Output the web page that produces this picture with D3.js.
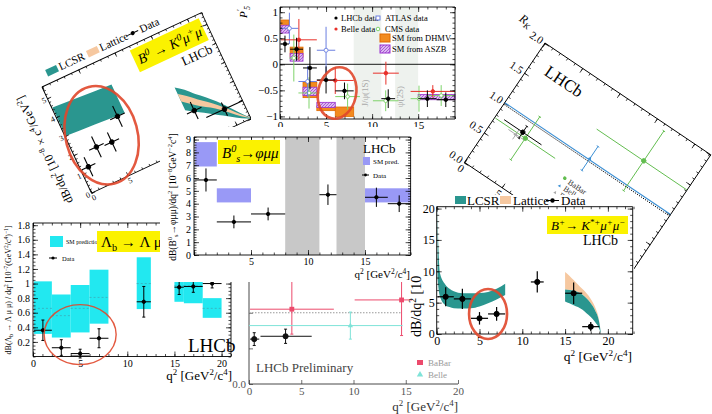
<!DOCTYPE html>
<html>
<head>
<meta charset="utf-8">
<script src="https://cdn.jsdelivr.net/npm/d3@7"></script>
<style>
  body { margin: 0; background: #fff; }
  svg { display: block; }
</style>
</head>
<body>
<svg id="chart" width="712" height="414"></svg>
<script>
// ---- B0 -> K0 mu mu (rotated, top left) ----
const k0Bins = [[0.1, 2], [2, 4], [4, 6], [6, 8], [15, 17], [17, 22]];
const k0Val = [1.2, 1.9, 1.8, 2.8, 1.5, 0.95];
const k0Err = [0.5, 0.55, 0.5, 0.55, 0.45, 0.35];
const k0LowQ = [0.1, 2, 4, 6, 8];
const k0LowUp = [4.5, 4.45, 4.4, 4.35, 4.3];
const k0LowLo = [3.0, 2.95, 2.9, 2.85, 2.8];
const k0HighQ = [15, 16, 17, 18, 19, 20, 21, 22];
const k0HighUp = [2.9, 2.6, 2.2, 1.85, 1.45, 1.0, 0.5, 0.05];
const k0HighLo = [1.7, 1.45, 1.2, 0.95, 0.7, 0.45, 0.2, 0.0];
const k0LatUp = [2.55, 2.25, 1.9, 1.6, 1.25, 0.85, 0.42, 0.04];
const k0LatLo = [2.15, 1.85, 1.55, 1.3, 1.0, 0.65, 0.3, 0.02];

// ---- P5' (top centre) ----
const p5Vetoes = [[8, 11], [12.5, 15]];
const p5LhcbBins = [[0.1, 0.98], [1.1, 2.5], [2.5, 4], [4, 6], [6, 8], [11, 12.5], [15, 17], [17, 19]];
const p5LhcbVal = [0.39, 0.29, -0.07, -0.30, -0.51, -0.66, -0.66, -0.68];
const p5LhcbErr = [0.16, 0.22, 0.4, 0.26, 0.16, 0.18, 0.16, 0.14];
const p5BelleBins = [[0.1, 4], [4, 8], [10.09, 12.9], [14.18, 19]];
const p5BelleVal = [0.47, -0.31, -0.17, -0.52];
const p5BelleErr = [0.4, 0.26, 0.22, 0.12];
const p5AtlasBins = [[0.04, 2], [2, 4], [4, 6]];
const p5AtlasVal = [0.69, -0.33, 0.27];
const p5AtlasErr = [0.3, 0.3, 0.45];
const p5CmsBins = [[1, 2], [2, 4.3], [6, 8.68], [10.09, 12.86], [14.18, 16], [16, 19]];
const p5CmsVal = [0.12, -0.55, -0.62, -0.7, -0.66, -0.6];
const p5CmsErr = [0.45, 0.3, 0.25, 0.2, 0.25, 0.2];
const p5DhmvBins = [[0.1, 0.98], [1.1, 2.5], [2.5, 4], [4, 6], [6, 8]];
const p5DhmvLo = [0.62, 0.14, -0.64, -0.89, -1.0];
const p5DhmvHi = [0.85, 0.33, -0.35, -0.8, -0.82];
const p5AszbBins = [[0.1, 0.98], [1.1, 2.5], [2.5, 4], [4, 6], [15, 19]];
const p5AszbLo = [0.6, 0.06, -0.6, -0.83, -0.68];
const p5AszbHi = [0.75, 0.21, -0.44, -0.73, -0.58];

// ---- R_K (rotated, top right) ----
const rkBabarQ = [4.1, 16.4];
const rkBabarBins = [[0.1, 8.1], [10.1, 22.8]];
const rkBabarVal = [0.75, 1.41];
const rkBabarErr = [0.36, 0.5];
const rkBelleQ = [11.3];
const rkBelleVal = [1.02];
const rkBelleErr = [0.2];
const rkLhcbBins = [[1, 6]];
const rkLhcbVal = [0.8];
const rkLhcbErr = [0.1];
const rkGreyQ = [3.0];
const rkGreyVal = [0.72];
const rkGreyErr = [0.08];

// ---- Bs -> phi mu mu (middle) ----
const bsVetoes = [[8, 11], [12.5, 15]];
const bsSmBins = [[0.1, 2], [2, 5], [15, 19]];
const bsSmLo = [6.9, 4.1, 4.1];
const bsSmHi = [8.8, 5.2, 5.2];
const bsBins = [[0.1, 2], [2, 5], [5, 8], [11, 12.5], [15, 17], [17, 19]];
const bsVal = [5.85, 2.58, 3.2, 4.7, 4.5, 4.0];
const bsErr = [0.9, 0.5, 0.5, 0.8, 0.75, 0.65];

// ---- Lambda_b -> Lambda mu mu (bottom left) ----
const lbBins = [[0.1, 2], [2, 4], [4, 6], [6, 8], [11, 12.5], [15, 16], [16, 18], [18, 20]];
const lbSmLo = [0.31, 0.26, 0.33, 0.45, 0.65, 0.75, 0.73, 0.53];
const lbSmHi = [1.03, 0.85, 0.98, 1.19, 1.36, 1.05, 1.05, 0.8];
const lbSmMid = [0.66, 0.56, 0.66, 0.81, 1.0, 0.97, 0.97, 0.66];
const lbVal = [0.36, 0.12, 0.04, 0.25, 0.75, 0.95, 0.96, 1.0];
const lbErr = [0.14, 0.11, 0.06, 0.13, 0.21, 0.1, 0.08, 0.06];

// ---- LHCb preliminary (bottom centre) ----
const prLhcbBins = [[0.1, 0.98], [1.1, 6]];
const prLhcbQ = [0.5, 3.5];
const prLhcbVal = [0.63, 0.67];
const prLhcbErr = [0.09, 0.1];
const prBabarBins = [[0.1, 8.12], [10.11, 16]];
const prBabarQ = [4.1, 14.6];
const prBabarVal = [1.05, 1.18];
const prBabarErr = [[0.35, 0.45], [0.5, 0.3]];
const prBelleBins = [[0, 14.7]];
const prBelleQ = [9.7];
const prBelleVal = [0.82];
const prBelleErr = [0.19];

// ---- B+ -> K*+ mu mu (bottom right) ----
const kpLowQ = [0.1, 0.2, 0.4, 1, 1.5, 2, 3, 4, 5, 6, 7, 8];
const kpLowUp = [20.3, 14, 9.6, 7.9, 7.2, 6.8, 6.5, 6.5, 6.55, 6.7, 7.2, 8.0];
const kpLowLo = [9, 7.4, 5.9, 4.6, 4.3, 4.1, 4.05, 4.1, 4.4, 4.9, 5.5, 6.2];
const kpHighQ = [15, 15.5, 16, 16.5, 17, 17.5, 18, 18.5, 19, 19.2];
const kpLatUp = [9.9, 9.3, 8.6, 7.9, 7.2, 6.5, 5.6, 4.3, 2.0, 0];
const kpLcsrUp = [7.1, 7.0, 6.9, 6.7, 6.3, 5.7, 4.9, 3.8, 1.8, 0];
const kpLcsrLo = [5.2, 4.9, 4.6, 4.3, 3.9, 3.3, 2.7, 1.9, 0.8, 0];
const kpBins = [[0.1, 2], [2, 4], [4, 6], [6, 8], [11, 12.5], [15, 17], [17, 19]];
const kpVal = [5.94, 5.6, 2.5, 3.2, 8.3, 6.5, 1.17];
const kpErr = [1.5, 1.6, 1.0, 1.1, 1.7, 1.7, 0.75];

const SERIF = "'Liberation Serif','DejaVu Serif',serif";
const TEAL = "#2a968f", TAN = "#f6c8a0", YELLOW = "#fbf200", RED = "#e0472b";
const svg = d3.select("#chart");

const defs = svg.append("defs");
const hatch = defs.append("pattern").attr("id", "hatch").attr("width", 3).attr("height", 3)
  .attr("patternUnits", "userSpaceOnUse");
hatch.append("rect").attr("width", 3).attr("height", 3).attr("fill", "#dcb8f2");
hatch.append("path").attr("d", "M0,3L3,0").attr("stroke", "#9a48c8").attr("stroke-width", 0.8);

// text with ^{sup} and _{sub}
function rich(sel, str, fs) {
  const parts = str.split(/(\^\{[^}]*\}|_\{[^}]*\})/g).filter(s => s !== "");
  let cur = 0;
  parts.forEach(p => {
    let off = 0, s = p;
    if (p.startsWith("^{")) { off = -0.38 * fs; s = p.slice(2, -1); }
    else if (p.startsWith("_{")) { off = 0.25 * fs; s = p.slice(2, -1); }
    sel.append("tspan").attr("dy", off - cur).attr("font-size", off ? fs * 0.68 : fs).text(s);
    cur = off;
  });
  return sel;
}

function label(g, x, y, str, fs, o = {}) {
  const t = g.append("text").attr("x", x).attr("y", y)
    .attr("font-family", SERIF).attr("font-size", fs)
    .attr("fill", o.fill || "#000")
    .attr("text-anchor", o.anchor || "start")
    .attr("font-style", o.italic ? "italic" : null);
  if (o.rot) t.attr("transform", `rotate(${o.rot},${x},${y})`);
  return rich(t, str, fs);
}

function panel(tx, ty, rot) {
  return svg.append("g").attr("transform", `translate(${tx},${ty}) rotate(${rot})`);
}

// axes with inward ticks on the requested sides
function frame(g, x, y, o) {
  const [xa, xb] = x.range(), [ya, yb] = y.range();
  const sides = o.sides || "lrbt", tl = o.tl || 5, col = o.col || "#000", pad = o.pad || 3;
  const put = (axis, tf) => {
    const a = g.append("g").attr("transform", tf).call(axis);
    a.select(".domain").remove();
    a.selectAll("line").attr("stroke", col).attr("stroke-width", 0.7);
    a.selectAll("text").attr("font-family", SERIF).attr("font-size", o.fs).attr("fill", o.tcol || col);
  };
  const xf = o.xFmt || (d => d), yf = o.yFmt || (d => d);
  if (sides.includes("b")) {
    put(d3.axisBottom(x).tickValues(o.xMaj).tickSize(-tl).tickPadding(pad).tickFormat(xf), `translate(0,${ya})`);
    if (o.xMin) put(d3.axisBottom(x).tickValues(o.xMin).tickSize(-tl / 2).tickFormat(""), `translate(0,${ya})`);
  }
  if (sides.includes("t")) {
    put(d3.axisTop(x).tickValues(o.xMaj).tickSize(-tl).tickFormat(""), `translate(0,${yb})`);
    if (o.xMin) put(d3.axisTop(x).tickValues(o.xMin).tickSize(-tl / 2).tickFormat(""), `translate(0,${yb})`);
  }
  if (sides.includes("l")) {
    put(d3.axisLeft(y).tickValues(o.yMaj).tickSize(-tl).tickPadding(pad).tickFormat(yf), `translate(${xa},0)`);
    if (o.yMin) put(d3.axisLeft(y).tickValues(o.yMin).tickSize(-tl / 2).tickFormat(""), `translate(${xa},0)`);
  }
  if (sides.includes("r")) {
    put(d3.axisRight(y).tickValues(o.yMaj).tickSize(-tl).tickFormat(""), `translate(${xb},0)`);
    if (o.yMin) put(d3.axisRight(y).tickValues(o.yMin).tickSize(-tl / 2).tickFormat(""), `translate(${xb},0)`);
  }
  const seg = { l: [xa, ya, xa, yb], r: [xb, ya, xb, yb], b: [xa, ya, xb, ya], t: [xa, yb, xb, yb] };
  sides.split("").forEach(s => g.append("line")
    .attr("x1", seg[s][0]).attr("y1", seg[s][1]).attr("x2", seg[s][2]).attr("y2", seg[s][3])
    .attr("stroke", col).attr("stroke-width", o.bw || 0.9));
}

function step(a, b, s) { return d3.range(Math.round(a / s), Math.round(b / s) + 1).map(i => +(i * s).toFixed(3)); }

// data points with x-bin and y-error bars
function crosses(g, x, y, bins, vals, errs, o = {}) {
  const col = o.col || "#000";
  const rows = bins.map((b, i) => {
    const e = Array.isArray(errs[i]) ? errs[i] : [errs[i], errs[i]];
    return { lo: b[0], hi: b[1], c: o.q ? o.q[i] : (b[0] + b[1]) / 2, v: vals[i], el: e[0], eh: e[1] };
  });
  const s = g.append("g").attr("stroke", col).attr("stroke-width", o.sw || 1.1);
  if (!o.noH) s.selectAll("line.h").data(rows).join("line").attr("class", "h")
    .attr("x1", d => x(d.lo)).attr("x2", d => x(d.hi)).attr("y1", d => y(d.v)).attr("y2", d => y(d.v));
  s.selectAll("line.v").data(rows).join("line").attr("class", "v")
    .attr("x1", d => x(d.c)).attr("x2", d => x(d.c)).attr("y1", d => y(d.v - d.el)).attr("y2", d => y(d.v + d.eh));
  if (o.caps) {
    s.selectAll("line.c1").data(rows).join("line").attr("class", "c1")
      .attr("x1", d => x(d.c) - 1.5).attr("x2", d => x(d.c) + 1.5).attr("y1", d => y(d.v - d.el)).attr("y2", d => y(d.v - d.el));
    s.selectAll("line.c2").data(rows).join("line").attr("class", "c2")
      .attr("x1", d => x(d.c) - 1.5).attr("x2", d => x(d.c) + 1.5).attr("y1", d => y(d.v + d.eh)).attr("y2", d => y(d.v + d.eh));
  }
  const r = o.r || 2.2, mk = o.mk || "dot";
  const m = g.selectAll(null).data(rows).join(mk === "sq" ? "rect" : mk === "tri" ? "path" : "circle");
  if (mk === "sq") m.attr("x", d => x(d.c) - r).attr("y", d => y(d.v) - r).attr("width", 2 * r).attr("height", 2 * r).attr("fill", col);
  else if (mk === "tri") m.attr("d", d => `M${x(d.c)},${y(d.v) - r * 1.2}l${r * 1.1},${r * 1.9}h${-r * 2.2}z`).attr("fill", col);
  else m.attr("cx", d => x(d.c)).attr("cy", d => y(d.v)).attr("r", r)
    .attr("fill", mk === "open" ? "#fff" : col).attr("stroke", col).attr("stroke-width", 0.9);
}

function boxes(g, x, y, bins, lo, hi, fill, stroke) {
  g.selectAll(null).data(bins).join("rect")
    .attr("x", d => x(d[0])).attr("width", d => x(d[1]) - x(d[0]))
    .attr("y", (d, i) => y(hi[i])).attr("height", (d, i) => y(lo[i]) - y(hi[i]))
    .attr("fill", fill).attr("stroke", stroke || "none").attr("stroke-width", 0.8);
}

function band(g, x, y, qs, lo, hi, fill, curve) {
  g.append("path").datum(qs.map((q, i) => [q, lo[i], hi[i]]))
    .attr("fill", fill)
    .attr("d", d3.area().x(d => x(d[0])).y0(d => y(d[1])).y1(d => y(d[2])).curve(curve || d3.curveMonotoneX));
}

function ring(g, cx, cy, rx, ry, rot, sw) {
  g.append("ellipse").attr("cx", cx).attr("cy", cy).attr("rx", rx).attr("ry", ry)
    .attr("transform", `rotate(${rot},${cx},${cy})`)
    .attr("fill", "none").attr("stroke", RED).attr("stroke-width", sw).attr("opacity", 0.9);
}

function clipTo(g, id, x, y) {
  const [xa, xb] = x.range(), [ya, yb] = y.range();
  defs.append("clipPath").attr("id", id).append("rect")
    .attr("x", xa).attr("y", yb).attr("width", xb - xa).attr("height", ya - yb);
  return g.append("g").attr("clip-path", `url(#${id})`);
}

// ================= Panel A : B0 -> K0 mu mu =================
{
  const g = panel(42, 87, -25);
  const x = d3.scaleLinear().domain([0, 22]).range([0, 176]);
  const y = d3.scaleLinear().domain([0, 5.6]).range([117, 0]);
  g.append("rect").attr("x", -45).attr("y", -28).attr("width", 228).attr("height", 172).attr("fill", "#fff");
  const c = clipTo(g, "clipA", x, y);
  band(c, x, y, k0LowQ, k0LowLo, k0LowUp, TEAL, d3.curveLinear);
  band(c, x, y, k0HighQ, k0HighLo, k0HighUp, TEAL);
  band(c, x, y, k0HighQ, k0LatLo, k0LatUp, TAN);
  crosses(g, x, y, k0Bins, k0Val, k0Err, { r: 2.2 });
  frame(g, x, y, { xMaj: [0, 5, 10, 15, 20], xMin: step(0, 22, 1), yMaj: [0, 1, 2, 3, 4, 5], yMin: step(0, 5.6, 0.2),
    fs: 8, tl: 4, pad: 2, xFmt: d => (d <= 5 ? d : "") });
  label(g, -20, 58, "dB/dq^{2} [10^{−8} × c^{4}/GeV^{2}]", 12, { rot: -90, anchor: "middle" });
  g.append("rect").attr("x", 95).attr("y", 4).attr("width", 76).attr("height", 24).attr("fill", YELLOW);
  label(g, 99, 21, "B^{0} → K^{0}μ^{+}μ^{−}", 14, { italic: true });
  label(g, 170, 41, "LHCb", 13, { anchor: "end" });
  g.append("rect").attr("x", 10).attr("y", -14).attr("width", 12).attr("height", 7).attr("fill", TEAL);
  label(g, 24, -7, "LCSR", 11);
  g.append("rect").attr("x", 55).attr("y", -14).attr("width", 12).attr("height", 7).attr("fill", TAN);
  label(g, 69, -7, "Lattice", 11);
  g.append("line").attr("x1", 99).attr("x2", 111).attr("y1", -10.5).attr("y2", -10.5).attr("stroke", "#000");
  g.append("circle").attr("cx", 105).attr("cy", -10.5).attr("r", 2).attr("fill", "#000");
  label(g, 113, -7, "Data", 11);
  ring(g, x(4.2), y(2.3), 36, 50, 10, 2.6);
}

// ================= Panel C : R_K =================
{
  const g = panel(545, 43, 34);
  const x = d3.scaleLinear().domain([0, 22.2]).range([0, 200]);
  const y = d3.scaleLinear().domain([0, 2]).range([144, 0]);
  g.append("rect").attr("x", -38).attr("y", -22).attr("width", 250).attr("height", 200).attr("fill", "#fff");
  frame(g, x, y, { xMaj: [0, 5, 10, 15, 20], xMin: step(0, 22, 1), yMaj: [0, 0.5, 1, 1.5, 2], yMin: step(0, 2, 0.1),
    fs: 11, tl: 5, yFmt: d3.format(".1f") });
  const c = clipTo(g, "clipC", x, y);
  c.append("line").attr("x1", x(0)).attr("x2", x(22.2)).attr("y1", y(1)).attr("y2", y(1)).attr("stroke", "#3b8fd4").attr("stroke-width", 1.2);
  c.append("line").attr("x1", x(0)).attr("x2", x(22.2)).attr("y1", y(0.975)).attr("y2", y(0.975))
    .attr("stroke", "#000").attr("stroke-width", 0.9).attr("stroke-dasharray", "1.2,1.2");
  crosses(c, x, y, rkBabarBins, rkBabarVal, rkBabarErr, { col: "#62bd4f", q: rkBabarQ, caps: true, r: 2.2, sw: 0.9 });
  crosses(c, x, y, [[11.3, 11.3]], rkBelleVal, rkBelleErr, { col: "#3b8fd4", q: rkBelleQ, caps: true, r: 1.8, noH: true, mk: "tri", sw: 0.9 });
  crosses(c, x, y, [[2, 4]], rkGreyVal, rkGreyErr, { col: "#aaa", q: rkGreyQ, r: 2, mk: "tri", sw: 0.9 });
  crosses(c, x, y, rkLhcbBins, rkLhcbVal, rkLhcbErr, { col: "#000", caps: true, r: 2.2, sw: 0.9 });
  label(g, 16, 27, "LHCb", 17);
  label(g, -22, -4, "R_{K}", 12, { italic: true, anchor: "end" });
  g.append("circle").attr("cx", 92).attr("cy", 101).attr("r", 1.8).attr("fill", "#62bd4f");
  label(g, 97, 104, "BaBar", 8, { fill: "#333" });
  g.append("path").attr("d", "M92,108.5l1.6,2.8h-3.2z").attr("fill", "#3b8fd4");
  label(g, 97, 112, "Belle", 8, { fill: "#333" });
  g.append("path").attr("d", "M92,116.5l1.6,2.8h-3.2z").attr("fill", "#aaa");
  label(g, 97, 120, "Data", 8, { fill: "#333" });
}

// ================= Panel B : P5' =================
{
  const g = svg.append("g");
  const x = d3.scaleLinear().domain([0, 19]).range([280, 455]);
  const y = d3.scaleLinear().domain([-1.05, 1.1]).range([119, 7]);
  g.append("rect").attr("x", 251).attr("y", 0).attr("width", 209).attr("height", 128).attr("fill", "#fff");
  g.selectAll(null).data(p5Vetoes).join("rect")
    .attr("x", d => x(d[0])).attr("width", d => x(d[1]) - x(d[0])).attr("y", y(1.1)).attr("height", y(-1.05) - y(1.1))
    .attr("fill", "#eef2ee");
  label(g, x(9.6), y(-0.55), "J/ψ(1S)", 9, { rot: -90, anchor: "middle", fill: "#aaa" });
  label(g, x(13.4), y(-0.62), "ψ(2S)", 9, { rot: -90, anchor: "middle", fill: "#aaa" });
  g.append("line").attr("x1", x(0)).attr("x2", x(19)).attr("y1", y(0)).attr("y2", y(0)).attr("stroke", "#000").attr("stroke-width", 0.9);
  boxes(g, x, y, p5DhmvBins, p5DhmvLo, p5DhmvHi, "#f28a1e", "#e06b00");
  boxes(g, x, y, p5AszbBins, p5AszbLo, p5AszbHi, "url(#hatch)", "#9a30d0");
  crosses(g, x, y, p5CmsBins, p5CmsVal, p5CmsErr, { col: "#7fd36b", mk: "open", r: 1.8, sw: 1 });
  crosses(g, x, y, p5AtlasBins, p5AtlasVal, p5AtlasErr, { col: "#6b7fe0", mk: "open", r: 2, sw: 1 });
  crosses(g, x, y, p5BelleBins, p5BelleVal, p5BelleErr, { col: "#e8302a", r: 1.8, sw: 1 });
  crosses(g, x, y, p5LhcbBins, p5LhcbVal, p5LhcbErr, { col: "#000", r: 1.8, sw: 1 });
  frame(g, x, y, { xMaj: [0, 5, 10, 15], xMin: step(0, 19, 1), yMaj: [-1, -0.5, 0, 0.5, 1], yMin: step(-1, 1.1, 0.1),
    fs: 11, tl: 5, pad: 2, yFmt: d3.format("") });
  label(g, 247, 18, "P^{′}_{5}", 11, { rot: -90, italic: true });
  // legend
  g.append("circle").attr("cx", 336).attr("cy", 18).attr("r", 1.6).attr("fill", "#000");
  label(g, 341, 21, "LHCb data", 8.5);
  g.append("circle").attr("cx", 336).attr("cy", 29).attr("r", 1.6).attr("fill", "#e8302a");
  label(g, 341, 32, "Belle data", 8.5);
  g.append("rect").attr("x", 376).attr("y", 16).attr("width", 4).attr("height", 4).attr("fill", "#fff").attr("stroke", "#6b7fe0");
  label(g, 385, 21, "ATLAS data", 8.5);
  g.append("circle").attr("cx", 378).attr("cy", 29).attr("r", 1.8).attr("fill", "#fff").attr("stroke", "#7fd36b");
  label(g, 385, 32, "CMS data", 8.5);
  g.append("rect").attr("x", 380).attr("y", 34).attr("width", 10).attr("height", 8).attr("fill", "#f28a1e").attr("stroke", "#e06b00");
  label(g, 392, 41, "SM from DHMV", 8.5);
  g.append("rect").attr("x", 380).attr("y", 45).attr("width", 10).attr("height", 8).attr("fill", "url(#hatch)").attr("stroke", "#9a30d0");
  label(g, 392, 52, "SM from ASZB", 8.5);
  ring(g, x(6.2), y(-0.55), 19, 26, 12, 2.6);
}

// ================= Panel F : LHCb preliminary =================
{
  const g = svg.append("g");
  const x = d3.scaleLinear().domain([0, 20]).range([249, 458]);
  const y = d3.scaleLinear().domain([0, 1.53]).range([384, 275]);
  g.append("rect").attr("x", 228).attr("y", 270).attr("width", 240).attr("height", 144).attr("fill", "#fff");
  frame(g, x, y, { sides: "lb", xMaj: [0, 5, 10, 15, 20], xMin: [], yMaj: [0, 0.5, 1], fs: 11, tl: 4,
    col: "#333", tcol: "#555", yFmt: d => (d ? "" : "0.0") });
  g.append("line").attr("x1", x(0)).attr("x2", x(14.6)).attr("y1", y(1)).attr("y2", y(1))
    .attr("stroke", "#999").attr("stroke-dasharray", "1.5,1.5");
  crosses(g, x, y, prBabarBins, prBabarVal, prBabarErr, { col: "#ec4a6c", q: prBabarQ, mk: "sq", r: 2.4, sw: 1, caps: true });
  crosses(g, x, y, prBelleBins, prBelleVal, prBelleErr, { col: "#7fe3d8", q: prBelleQ, mk: "tri", r: 2.4, sw: 1, caps: true });
  crosses(g, x, y, prLhcbBins, prLhcbVal, prLhcbErr, { col: "#111", q: prLhcbQ, r: 2.6, sw: 1, caps: true });
  label(g, 256, 372, "LHCb Preliminary", 13, { fill: "#444" });
  label(g, 458, 411, "q^{2} [GeV^{2}/c^{4}]", 13, { anchor: "end", fill: "#333" });
  g.append("rect").attr("x", 417).attr("y", 359).attr("width", 6).attr("height", 6).attr("fill", "#ec4a6c");
  label(g, 428, 366, "BaBar", 9, { fill: "#999" });
  g.append("path").attr("d", "M420,371l3.2,5.6h-6.4z").attr("fill", "#7fe3d8");
  label(g, 428, 378, "Belle", 9, { fill: "#999" });
}

// ================= Panel E : Lambda_b -> Lambda mu mu =================
{
  const g = svg.append("g");
  const x = d3.scaleLinear().domain([0, 21]).range([33, 231]);
  const y = d3.scaleLinear().domain([0, 1.83]).range([356.5, 223]);
  g.append("rect").attr("x", 0).attr("y", 210).attr("width", 242).attr("height", 169).attr("fill", "#fff");
  boxes(g, x, y, lbBins, lbSmLo, lbSmHi, "#22e8f0");
  g.selectAll(null).data(lbBins).join("line")
    .attr("x1", d => x(d[0])).attr("x2", d => x(d[1])).attr("y1", (d, i) => y(lbSmMid[i])).attr("y2", (d, i) => y(lbSmMid[i]))
    .attr("stroke", "#36b8c4").attr("stroke-dasharray", "2,2");
  g.append("rect").attr("x", x(4)).attr("width", x(6) - x(4)).attr("y", y(0.02)).attr("height", y(0) - y(0.02)).attr("fill", "#888");
  crosses(g, x, y, lbBins, lbVal, lbErr, { r: 1.7, sw: 1, caps: true });
  frame(g, x, y, { xMaj: [0, 5, 10, 15, 20], xMin: step(0, 21, 1), yMaj: step(0.2, 1.8, 0.2), yMin: step(0, 1.8, 0.05),
    fs: 10, tl: 5, pad: 3, yFmt: d => String(+d.toFixed(1)) });
  label(g, 11, 290, "dB(Λ_{b} → Λ μ μ) / dq^{2} [10^{−7}(GeV^{2}/c^{4})^{−1}]", 8, { rot: -90, anchor: "middle" });
  label(g, 232, 380, "q^{2} [GeV^{2}/c^{4}]", 13, { anchor: "end" });
  label(g, 188, 352, "LHCb", 19);
  g.append("rect").attr("x", 50).attr("y", 236).attr("width", 13).attr("height", 11).attr("fill", "#22e8f0");
  label(g, 66, 244, "SM prediction", 6);
  g.append("line").attr("x1", 49).attr("x2", 57).attr("y1", 258).attr("y2", 258).attr("stroke", "#000");
  g.append("circle").attr("cx", 53).attr("cy", 258).attr("r", 1.6).attr("fill", "#000");
  label(g, 62, 261, "Data", 6.5);
  g.append("rect").attr("x", 97).attr("y", 231).attr("width", 70).attr("height", 21).attr("fill", YELLOW);
  label(g, 101, 247, "Λ_{b} → Λ μμ", 15);
  ring(g, x(5), y(0.3), 36, 30, 0, 1.4);
}

// ================= Panel D : Bs -> phi mu mu =================
{
  const g = svg.append("g");
  const x = d3.scaleLinear().domain([0, 19]).range([194, 410.6]);
  const y = d3.scaleLinear().domain([0, 9.2]).range([255, 137]);
  g.append("rect").attr("x", 160).attr("y", 127).attr("width", 258).attr("height", 155).attr("fill", "#fff");
  g.selectAll(null).data(bsVetoes).join("rect")
    .attr("x", d => x(d[0])).attr("width", d => x(d[1]) - x(d[0])).attr("y", y(9.2)).attr("height", y(0) - y(9.2))
    .attr("fill", "#c8c8c8");
  boxes(g, x, y, bsSmBins, bsSmLo, bsSmHi, "#9999f6");
  crosses(g, x, y, bsBins, bsVal, bsErr, { r: 1.7, sw: 1 });
  frame(g, x, y, { xMaj: [0, 5, 10, 15], xMin: step(0, 19, 1), yMaj: step(0, 9, 1), yMin: step(0, 9.2, 0.2),
    fs: 10, tl: 5, pad: 3, xFmt: d => (d ? d : "") });
  label(g, 176, 197, "dB(B^{0}_{s}→φμμ)/dq^{2} [10^{−8}GeV^{−2}c^{4}]", 9.5, { rot: -90, anchor: "middle" });
  label(g, 410, 278, "q^{2} [GeV^{2}/c^{4}]", 11, { anchor: "end" });
  g.append("rect").attr("x", 218).attr("y", 140).attr("width", 62).attr("height", 24).attr("fill", YELLOW);
  label(g, 222, 158, "B^{0}_{s}→φμμ", 15, { italic: true });
  label(g, 363, 153, "LHCb", 13);
  g.append("rect").attr("x", 363).attr("y", 157).attr("width", 7).attr("height", 8).attr("fill", "#9999f6");
  label(g, 373, 164, "SM pred.", 7);
  g.append("line").attr("x1", 362).attr("x2", 369).attr("y1", 175).attr("y2", 175).attr("stroke", "#000");
  g.append("circle").attr("cx", 365.5).attr("cy", 175).attr("r", 1.4).attr("fill", "#000");
  label(g, 373, 178, "Data", 7);
}

// ================= Panel G : B+ -> K*+ mu mu =================
{
  const g = svg.append("g");
  const x = d3.scaleLinear().domain([0, 22.9]).range([436.7, 632.7]);
  const y = d3.scaleLinear().domain([0, 20.3]).range([334, 206.7]);
  g.append("rect").attr("x", 412).attr("y", 195).attr("width", 222).attr("height", 165).attr("fill", "#fff");
  const c = clipTo(g, "clipG", x, y);
  band(c, x, y, kpLowQ, kpLowLo, kpLowUp, TEAL);
  band(c, x, y, kpHighQ, kpLcsrUp, kpLatUp, TAN);
  band(c, x, y, kpHighQ, kpLcsrLo, kpLcsrUp, TEAL);
  crosses(g, x, y, kpBins, kpVal, kpErr, { r: 2.6, sw: 1.2 });
  frame(g, x, y, { xMaj: [0, 5, 10, 15, 20], xMin: step(0, 22.9, 1), yMaj: [0, 5, 10, 15, 20], yMin: step(0, 20.3, 1),
    fs: 12, tl: 5, pad: 2 });
  label(g, 421, 337, "dB/dq^{2} [10", 14, { rot: -90 });
  label(g, 632, 361, "q^{2} [GeV^{2}/c^{4}]", 13.5, { anchor: "end" });
  g.append("rect").attr("x", 547).attr("y", 216).attr("width", 81).attr("height", 18).attr("fill", YELLOW);
  label(g, 551, 230, "B^{+}→ K^{*+}μ^{+}μ^{−}", 13, { italic: true });
  label(g, 583, 245, "LHCb", 14);
  g.append("rect").attr("x", 455).attr("y", 196).attr("width", 11).attr("height", 8).attr("fill", TEAL);
  label(g, 467, 205, "LCSR", 13);
  g.append("rect").attr("x", 500).attr("y", 196).attr("width", 11).attr("height", 8).attr("fill", TAN);
  label(g, 513, 205, "Lattice", 13);
  g.append("line").attr("x1", 546).attr("x2", 559).attr("y1", 200.5).attr("y2", 200.5).attr("stroke", "#000");
  g.append("circle").attr("cx", 552.5).attr("cy", 200.5).attr("r", 2.2).attr("fill", "#000");
  label(g, 561, 205, "Data", 13);
  ring(g, x(6), y(3.2), 19, 25, 0, 2.6);
}
</script>
</body>
</html>
